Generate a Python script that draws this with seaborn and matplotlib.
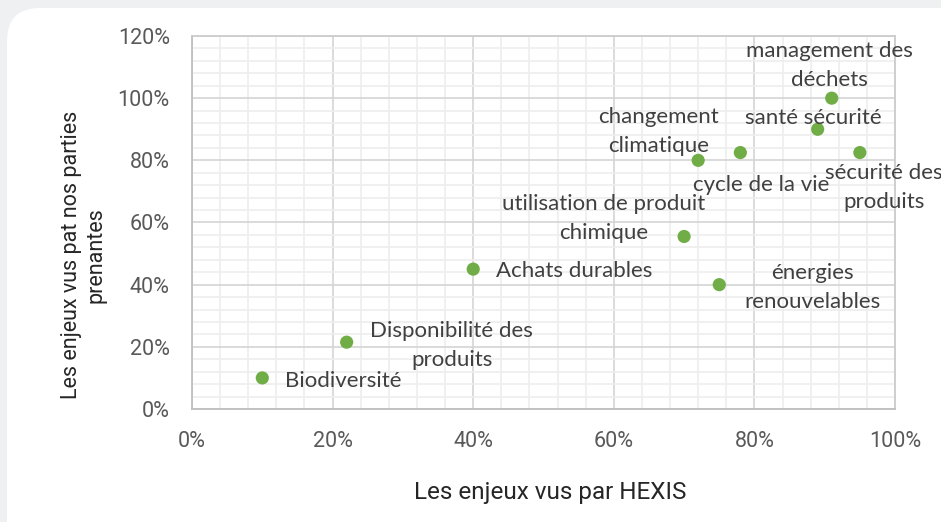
import matplotlib
matplotlib.use("Agg")
import matplotlib.pyplot as plt
from matplotlib.patches import FancyBboxPatch
from matplotlib.ticker import MultipleLocator, PercentFormatter
import pandas as pd
import seaborn as sns

# données
enjeux = ["Biodiversité", "Disponibilité des\nproduits", "Achats durables",
          "utilisation de produit\nchimique", "énergies\nrenouvelables",
          "changement\nclimatique", "cycle de la vie", "santé sécurité",
          "management des\ndéchets", "sécurité des\nproduits"]
vus_hexis = [0.10, 0.22, 0.40, 0.70, 0.75, 0.72, 0.78, 0.89, 0.91, 0.95]
vus_parties = [0.10, 0.215, 0.45, 0.555, 0.40, 0.80, 0.825, 0.90, 1.00, 0.825]

df = pd.DataFrame({"hexis": vus_hexis, "parties": vus_parties, "enjeu": enjeux})

# position des étiquettes (pixels, par rapport au point)
offsets = [(23, -3, "left"), (105, -3, "center"), (23, -2, "left"),
           (-80, 18, "center"), (93, -3, "center"), (-40, 29, "center"),
           (21, -32, "center"), (-4, 11, "center"), (-2, 33, "center"),
           (24, -35, "center")]

sns.set_style("white")
plt.rcParams["font.family"] = ["Lato", "DejaVu Sans"]

fig = plt.figure(figsize=(9.41, 5.22), dpi=100)
fig.patch.set_facecolor("#eef0f2")
panel = FancyBboxPatch((7 / 941, -0.1), 1.1, 1.1 - 8 / 522,
                       boxstyle="round,pad=0,rounding_size=0.035",
                       transform=fig.transFigure, facecolor="white", edgecolor="none",
                       mutation_aspect=941 / 522, zorder=-5)
fig.patches.append(panel)

ax = fig.add_axes([192 / 941, 1 - 409 / 522, 703 / 941, 373 / 522])
ax.set_facecolor("white")

sns.scatterplot(data=df, x="hexis", y="parties", ax=ax, color="#70ad47", s=90,
                edgecolor="none", zorder=3, clip_on=False)

for (x, y, txt), (dx, dy, ha) in zip(zip(vus_hexis, vus_parties, enjeux), offsets):
    ax.annotate(txt, (x, y), xytext=(dx, dy), textcoords="offset pixels",
                ha=ha, va="center", fontsize=16, color="#404040",
                linespacing=1.55, annotation_clip=False, zorder=4)

ax.set_xlim(0, 1)
ax.set_ylim(0, 1.2)
ax.xaxis.set_major_locator(MultipleLocator(0.2))
ax.yaxis.set_major_locator(MultipleLocator(0.2))
ax.xaxis.set_minor_locator(MultipleLocator(0.04))
ax.yaxis.set_minor_locator(MultipleLocator(0.04))
ax.xaxis.set_major_formatter(PercentFormatter(1.0, decimals=0))
ax.yaxis.set_major_formatter(PercentFormatter(1.0, decimals=0))

ax.grid(which="major", color="#d4d4d4", linewidth=1.2)
ax.grid(which="minor", color="#eeeeee", linewidth=1.2)
ax.set_axisbelow(True)
for sp in ax.spines.values():
    sp.set_color("#cccccc")
    sp.set_linewidth(1.3)
ax.spines["left"].set_color("#bfbfbf")
ax.spines["bottom"].set_color("#bfbfbf")

ax.tick_params(which="both", length=0, labelsize=15.5, labelcolor="#595959")
ax.tick_params(axis="x", pad=16)
ax.tick_params(axis="y", pad=16)
for lab in ax.get_xticklabels() + ax.get_yticklabels():
    lab.set_fontfamily(["Roboto", "DejaVu Sans"])

ax.set_xlabel("Les enjeux vus par HEXIS", fontsize=17.5, color="#262626",
              family=["Roboto", "DejaVu Sans"], va="center")
ax.xaxis.set_label_coords(0.509, -0.225)
ax.set_ylabel("Les enjeux vus pat nos parties\nprenantes", fontsize=15.5, color="#262626",
              linespacing=1.2, family=["Roboto", "DejaVu Sans"], va="center")
ax.yaxis.set_label_coords(-0.154, 0.413)

fig.savefig("out.png", dpi=100)
